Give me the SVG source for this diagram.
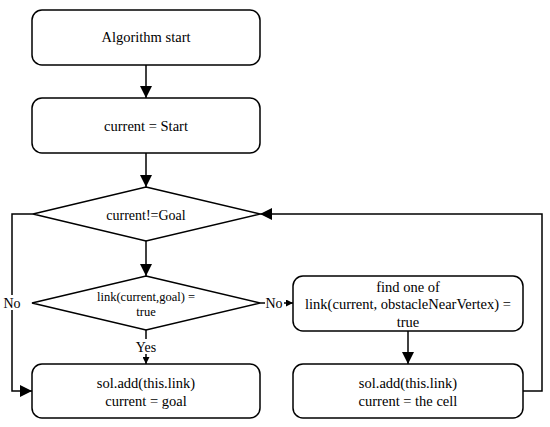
<svg xmlns="http://www.w3.org/2000/svg" width="550" height="427" viewBox="0 0 550 427" font-family="Liberation Serif">
<style>
.box{fill:#fff;stroke:#000;stroke-width:1.5}
.ln{fill:none;stroke:#000;stroke-width:1.5}
text{font-family:"Liberation Serif",serif !important;font-size:14.5px;fill:#000;text-anchor:middle;dominant-baseline:central}
text.m{font-size:14px}
text.s{font-size:12.5px}
</style>
<defs>
<marker id="b" markerWidth="12" markerHeight="12" refX="12" refY="6" orient="auto" markerUnits="userSpaceOnUse"><path d="M0,0 L12,6 L0,12 Z" fill="#000"/></marker>
<marker id="c" markerWidth="7" markerHeight="7" refX="7" refY="3.5" orient="auto" markerUnits="userSpaceOnUse"><path d="M0,0 L7,3.5 L0,7 Z" fill="#000"/></marker>
</defs>
<g id="connectors">
<line class="ln" x1="146" y1="65" x2="146" y2="98" marker-end="url(#b)"/>
<line class="ln" x1="146" y1="153" x2="146" y2="187" marker-end="url(#b)"/>
<line class="ln" x1="146" y1="241" x2="146" y2="276" marker-end="url(#b)"/>
<line class="ln" x1="146" y1="330" x2="146" y2="364" marker-end="url(#c)"/>
<polyline class="ln" points="33,214 12,214 12,391 32,391" marker-end="url(#b)"/>
<line class="ln" x1="260" y1="303" x2="293" y2="303" marker-end="url(#c)"/>
<line class="ln" x1="408" y1="331" x2="408" y2="364" marker-end="url(#b)"/>
<polyline class="ln" points="523,391 542,391 542,214 260,214" marker-end="url(#b)"/>
<rect x="135" y="339" width="22" height="15" fill="#fff"/>
<text class="m" style="font-family:Liberation Serif" x="146" y="347">Yes</text>
<rect x="2" y="295" width="20" height="15" fill="#fff"/>
<text class="m" style="font-family:Liberation Serif" x="12" y="303">No</text>
<rect x="265" y="296" width="19" height="14" fill="#fff"/>
<text class="m" style="font-family:Liberation Serif" x="274" y="303">No</text>
</g>
<g id="n1"><rect class="box" x="32" y="10" width="228" height="55" rx="10"/><text style="font-family:Liberation Serif" x="146" y="37">Algorithm start</text></g>
<g id="n2"><rect class="box" x="32" y="98" width="228" height="55" rx="10"/><text style="font-family:Liberation Serif" x="146" y="126">current = Start</text></g>
<g id="n3"><polygon class="box" points="146,187 260,214 146,241 33,214"/><text class="m" style="font-family:Liberation Serif" x="146" y="215">current!=Goal</text></g>
<g id="n4"><polygon class="box" points="146,276 260,303 146,330 32,303"/><text class="s" style="font-family:Liberation Serif" x="146" y="297">link(current,goal) =</text><text class="s" style="font-family:Liberation Serif" x="146" y="312">true</text></g>
<g id="n5"><rect class="box" x="32" y="364" width="228" height="54" rx="10"/><text style="font-family:Liberation Serif" x="146" y="383">sol.add(this.link)</text><text style="font-family:Liberation Serif" x="146" y="401">current = goal</text></g>
<g id="n6"><rect class="box" x="293" y="276" width="230" height="55" rx="10"/><text style="font-family:Liberation Serif" x="408" y="287">find one of</text><text style="font-family:Liberation Serif" x="408" y="304">link(current, obstacleNearVertex) =</text><text style="font-family:Liberation Serif" x="408" y="322">true</text></g>
<g id="n7"><rect class="box" x="293" y="364" width="230" height="54" rx="10"/><text style="font-family:Liberation Serif" x="408" y="383">sol.add(this.link)</text><text style="font-family:Liberation Serif" x="408" y="401">current = the cell</text></g>
</svg>
